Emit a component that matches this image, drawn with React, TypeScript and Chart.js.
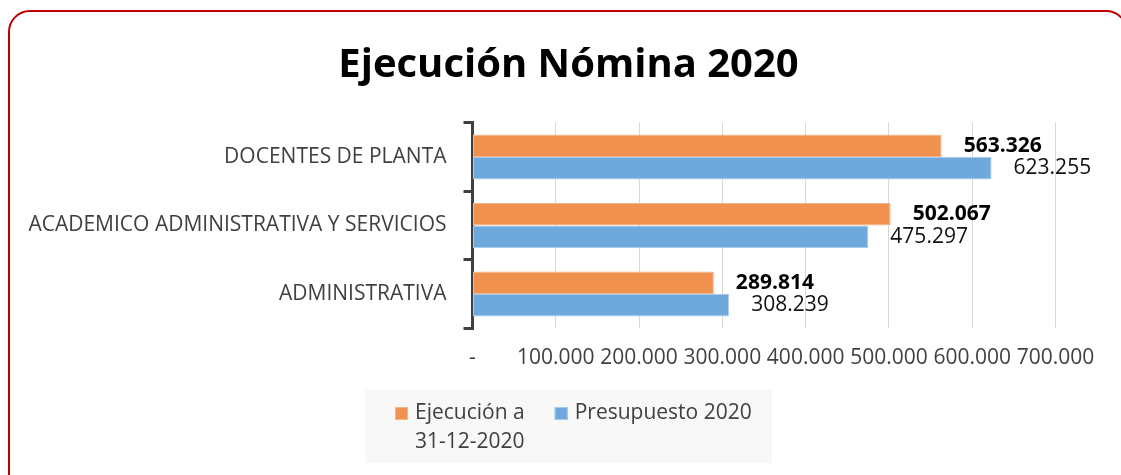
import { useEffect, useRef } from 'react';
import { Chart, registerables } from 'chart.js';

Chart.register(...registerables);

const categories = ['DOCENTES DE PLANTA', 'ACADEMICO ADMINISTRATIVA Y SERVICIOS', 'ADMINISTRATIVA'];
const seriesNames = ['Ejecución a 31-12-2020', 'Presupuesto 2020'];
const ejecucion = [563326, 502067, 289814];
const presupuesto = [623255, 475297, 308239];
const xMin = 0;
const xMax = 700000;
const xStep = 100000;
const titleText = 'Ejecución Nómina 2020';

const FONT = "'Open Sans', sans-serif";
const fills = ['#F0914F', '#6FA8DC'];
const edges = ['#F5B58A', '#A9CBEB'];

const fmt = (v: number) =>
  v === 0 ? '-' : Math.round(v).toString().replace(/\B(?=(\d{3})+(?!\d))/g, '.');

const dataLabelPlugin = {
  id: 'dataLabels',
  afterDatasetsDraw(chart: any) {
    const ctx = chart.ctx;
    ctx.save();
    chart.data.datasets.forEach((ds: any, di: number) => {
      const meta = chart.getDatasetMeta(di);
      ctx.font = (di === 0 ? 'bold ' : '') + '21px ' + FONT;
      ctx.fillStyle = di === 0 ? '#000000' : '#111111';
      ctx.textAlign = 'left';
      ctx.textBaseline = 'middle';
      meta.data.forEach((el: any, i: number) => {
        ctx.fillText(fmt(ds.data[i]), el.x + 22, el.y);
      });
    });
    ctx.restore();
  },
};

const legendPlugin = {
  id: 'customLegend',
  afterDraw(chart: any) {
    const ctx = chart.ctx;
    ctx.save();
    ctx.fillStyle = '#f8f8f8';
    ctx.fillRect(365, 390, 407, 73);
    ctx.font = '21px ' + FONT;
    ctx.textBaseline = 'alphabetic';
    ctx.textAlign = 'left';
    let x = 395;
    const baseline = 419;
    const lineGap = 29;
    const maxW = 185;
    chart.data.datasets.forEach((ds: any, di: number) => {
      const words = String(ds.label).split(' ');
      const lines: string[] = [];
      let cur = '';
      words.forEach((w) => {
        const test = cur ? cur + ' ' + w : w;
        if (ctx.measureText(test).width > maxW && cur) {
          lines.push(cur);
          cur = w;
        } else cur = test;
      });
      if (cur) lines.push(cur);
      ctx.fillStyle = fills[di];
      ctx.fillRect(x, baseline - 12, 13, 13);
      ctx.strokeStyle = edges[di];
      ctx.lineWidth = 1;
      ctx.strokeRect(x + 0.5, baseline - 11.5, 12, 12);
      ctx.fillStyle = '#404040';
      let w = 0;
      lines.forEach((ln, li) => {
        ctx.fillText(ln, x + 20, baseline + li * lineGap);
        w = Math.max(w, ctx.measureText(ln).width);
      });
      x += 20 + w + 30;
    });
    ctx.restore();
  },
};

export default function App() {
  const ref = useRef<HTMLCanvasElement>(null);
  useEffect(() => {
    document.body.style.margin = '0';
    const canvas = ref.current!;
    const chart = new Chart(canvas, {
      type: 'bar',
      data: {
        labels: categories,
        datasets: [
          {
            label: seriesNames[0],
            data: ejecucion,
            backgroundColor: fills[0],
            borderColor: edges[0],
            borderWidth: 1,
            borderSkipped: false,
            categoryPercentage: 0.657,
            barPercentage: 1,
          },
          {
            label: seriesNames[1],
            data: presupuesto,
            backgroundColor: fills[1],
            borderColor: edges[1],
            borderWidth: 1,
            borderSkipped: false,
            categoryPercentage: 0.657,
            barPercentage: 1,
          },
        ],
      },
      options: {
        indexAxis: 'y',
        responsive: false,
        animation: false,
        layout: { padding: { left: 25, right: 9, top: 0, bottom: 103.5 } },
        plugins: {
          legend: { display: false },
          tooltip: { enabled: false },
          title: {
            display: true,
            text: titleText,
            color: '#000000',
            font: { family: FONT, size: 40, weight: 'bold' },
            padding: { top: 42, bottom: 32.7 },
          },
        },
        scales: {
          x: {
            type: 'linear',
            min: xMin,
            max: xMax,
            ticks: {
              stepSize: xStep,
              padding: 17,
              color: '#404040',
              font: { family: FONT, size: 21 },
              maxRotation: 0,
              autoSkip: false,
              callback: (v: any) => fmt(Number(v)),
            },
            grid: { color: '#d9d9d9', lineWidth: 1, drawTicks: false },
            border: { display: false },
            afterFit: (scale: any) => {
              scale.height = 43.2;
              scale.paddingRight = 65.5;
            },
          },
          y: {
            type: 'category',
            offset: true,
            ticks: {
              padding: 17,
              color: '#404040',
              font: { family: FONT, size: 21 },
            },
            grid: {
              offset: true,
              drawOnChartArea: false,
              drawTicks: true,
              tickLength: 9,
              color: '#404040',
              lineWidth: 3,
            },
            border: { display: true, color: '#404040', width: 3 },
            afterFit: (scale: any) => {
              scale.width = 447.5;
            },
          },
        },
      },
      plugins: [dataLabelPlugin, legendPlugin],
    });
    return () => chart.destroy();
  }, []);

  return (
    <div style={{ position: 'fixed', left: 0, top: 0, width: 1121, height: 475, overflow: 'hidden', background: '#ffffff' }}>
      <div
        style={{
          position: 'absolute',
          left: 8,
          top: 10,
          width: 1120,
          height: 520,
          boxSizing: 'border-box',
          border: '2px solid #c00000',
          borderRadius: 22,
        }}
      />
      <canvas ref={ref} width={1121} height={475} style={{ position: 'absolute', left: 0, top: 0, width: 1121, height: 475 }} />
    </div>
  );
}
